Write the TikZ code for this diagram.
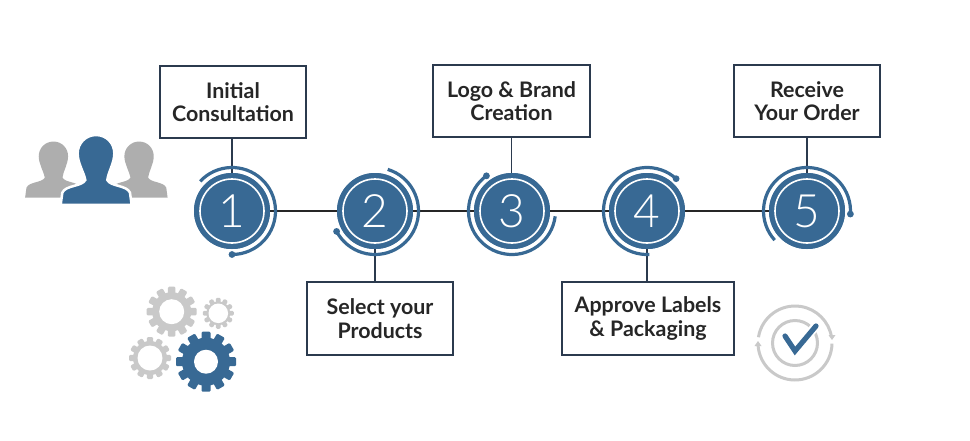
\documentclass[tikz,border=0pt]{standalone}
\usepackage{fontspec}
\setmainfont{Lato}
\newfontfamily\numfont{Lato Light}
\definecolor{bblue}{HTML}{386994}
\definecolor{frame}{HTML}{2B3A4E}
\definecolor{gearg}{HTML}{C9C9C9}
\definecolor{peopleg}{HTML}{AEAEAE}
\tikzset{
 x=1pt,y=-1pt,
 stepbox/.style={draw=frame,line width=1.6pt,fill=white,align=center,inner sep=0pt,font=\fontsize{21.4}{23.6}\selectfont\bfseries,text=black!85},
 disc/.style={circle,fill=bblue,minimum size=76pt,inner sep=0pt,text=white,font=\fontsize{46}{46}\selectfont\numfont},
 stem/.style={draw=frame,line width=1.4pt},
 axisline/.style={draw=black!85,line width=1.8pt},
 orbit/.style={draw=bblue,line width=3.2pt},
 innerring/.style={draw=white,line width=1.6pt},
}
\newcommand{\gearicon}[7]{%
 \fill[#7] (#1,#2) circle[radius=#4];
 \foreach \a in {1,...,#6}{
  \fill[#7,rounded corners=1.2pt,rotate around={\a*360/#6:(#1,#2)}] (#1-0.15*#3,#2) rectangle (#1+0.15*#3,#2-#3);
 }
 \fill[white] (#1,#2) circle[radius=#5];
}
\newcommand{\personshape}{(243,30) .. controls (275,30) and (298,55) .. (298,85) .. controls (298,115) and (280,140) .. (277,165) .. controls (287,185) and (335,180) .. (345,203) -- (350,240) -- (137,240) -- (142,203) .. controls (152,180) and (201,185) .. (211,165) .. controls (206,140) and (188,115) .. (188,85) .. controls (188,55) and (212,30) .. (243,30) -- cycle}
\newcommand{\orbitarc}[3]{%
 \begin{scope}[shift={(#1.center)},y=1pt]
  \draw[orbit] (#2:43.5) arc[start angle=#2,end angle=#3,radius=43.5];
 \end{scope}}
\newcommand{\orbitdot}[2]{%
 \begin{scope}[shift={(#1.center)},y=1pt]
  \fill[bblue] (#2:43.5) circle[radius=3.4];
 \end{scope}}
\newcommand{\ringin}[1]{\draw[innerring] (#1.center) circle[radius=32];}
\begin{document}
\begin{tikzpicture}
\useasboundingbox (0,0) rectangle (970,440);
\fill[white] (0,0) rectangle (970,440);

% people
\begin{scope}[shift={(15,125)},x=0.3333pt,y=-0.3333pt]
 \begin{scope}[shift={(-128,32)},scale=0.8,shift={(61,-8)}]
  \fill[peopleg] \personshape;
 \end{scope}
 \begin{scope}[shift={(129,32)},scale=0.8,shift={(61,-8)}]
  \fill[peopleg] \personshape;
 \end{scope}
 \fill[bblue,draw=white,line width=2.5pt] \personshape;
\end{scope}

% gears
\gearicon{171.7}{311.7}{25}{19.5}{12.5}{12}{gearg}
\gearicon{218.3}{313.3}{15.5}{12}{9.8}{12}{gearg}
\gearicon{150}{358}{21}{17}{12.5}{12}{gearg}
\fill[white] (206,361.7) circle[radius=28];
\gearicon{206}{361.7}{30}{24}{12}{12}{bblue}

% check icon
\begin{scope}[shift={(795,343)},y=1pt]
 \draw[gearg,line width=3pt] (171:37) arc[start angle=171,end angle=9,radius=37];
 \draw[gearg,line width=3pt] (-1:37) arc[start angle=-1,end angle=-176,radius=37];
 \fill[gearg] (33.5,8) -- (40.5,8) -- (37,3) -- cycle;
 \fill[gearg] (-40.5,-3) -- (-33.5,-3) -- (-37,2) -- cycle;
 \draw[gearg,line width=3pt] (0,0) circle[radius=22.5];
 \draw[white,line width=9pt] (-10,7) -- (0,-8) -- (21.5,18);
 \draw[bblue,line width=5.2pt,line cap=round,line join=miter] (-10,7) -- (0,-8) -- (21,17);
\end{scope}

\node[disc] (d1) at (232,211) {1};
\node[disc] (d2) at (375,211) {2};
\node[disc] (d3) at (512,211) {3};
\node[disc] (d4) at (647,211) {4};
\node[disc] (d5) at (807,211) {5};

\node[stepbox,minimum width=146pt,minimum height=72pt] (b1) at (233,102) {Initial\\Consultation};
\node[stepbox,minimum width=146pt,minimum height=73pt] (b2) at (380,318.5) {Select your\\Products};
\node[stepbox,minimum width=157pt,minimum height=72pt] (b3) at (511.5,101) {Logo \& Brand\\Creation};
\node[stepbox,minimum width=172pt,minimum height=73pt] (b4) at (648,318.5) {Approve Labels\\\& Packaging};
\node[stepbox,minimum width=146pt,minimum height=72pt] (b5) at (807,101) {Receive\\Your Order};

\draw[axisline] (d1.center) -- (d2.center);
\draw[axisline] (d2.center) -- (d3.center);
\draw[axisline] (d3.center) -- (d4.center);
\draw[axisline] (d4.center) -- (d5.center);
\draw[stem] (d1.north) -- (d1.north |- b1.south);
\draw[stem] (d2.south) -- (d2.south |- b2.north);
\draw[stem] (b3.south) -- (b3.south |- d3.north);
\draw[stem] (d4.south) -- (d4.south |- b4.north);
\draw[stem] (b5.south) -- (d5.north);

% discs repainted over the axis
\foreach \n/\t in {d1/1,d2/2,d3/3,d4/4,d5/5}{
 \node[disc] at (\n.center) {\t};
 \ringin{\n}
}
\orbitarc{d1}{137}{-90}\orbitdot{d1}{-90}
\orbitarc{d2}{73}{-152}\orbitdot{d2}{-152}
\orbitarc{d3}{126}{353}\orbitdot{d3}{126}
\orbitarc{d4}{48}{273}\orbitdot{d4}{48}
\orbitarc{d5}{222}{-4}\orbitdot{d5}{-4}
\end{tikzpicture}
\end{document}
